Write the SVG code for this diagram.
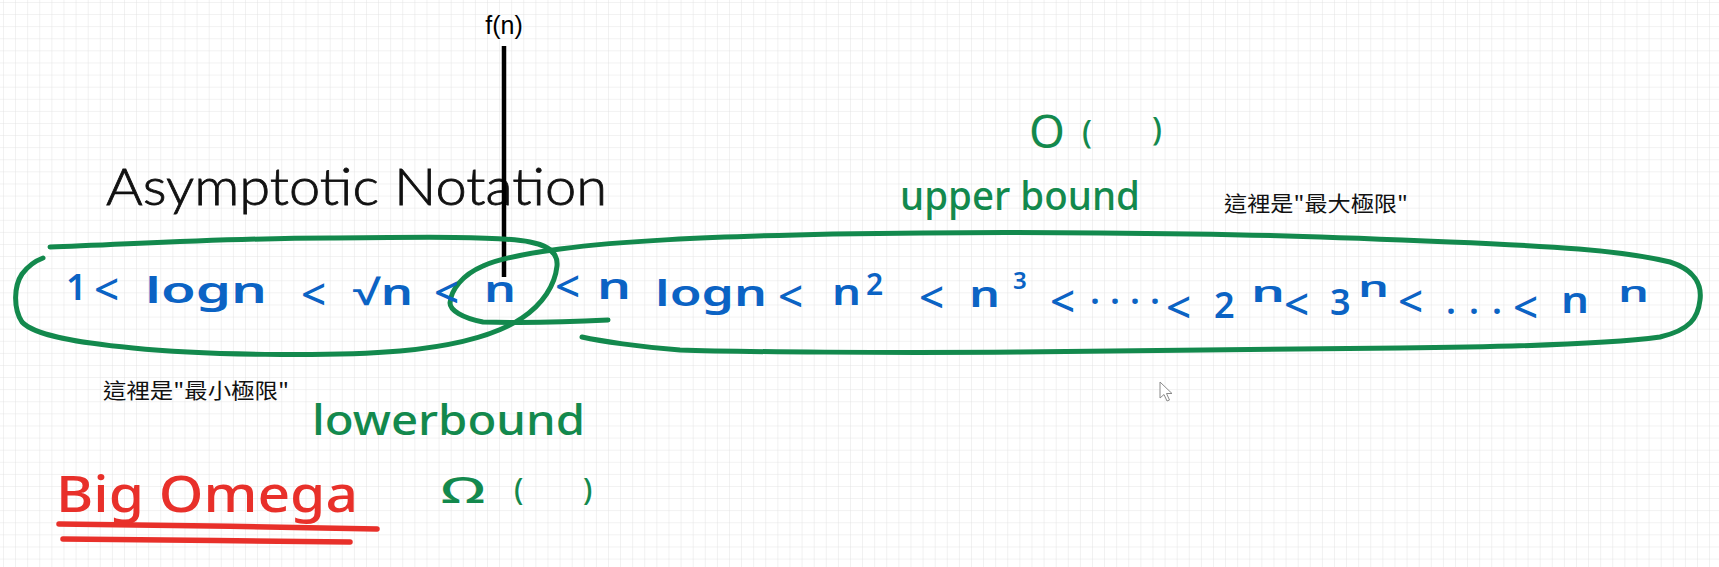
<svg xmlns="http://www.w3.org/2000/svg" width="1719" height="567" viewBox="0 0 1719 567">
<defs>
<pattern id="grid" x="3" y="2" width="12.1" height="12.1" patternUnits="userSpaceOnUse">
<path d="M0,0 H12.1 M0,0 V12.1" fill="none" stroke="#e3e3e3" stroke-width="1"/>
</pattern>
<style>
.ink{fill:none;stroke-linecap:round;stroke-linejoin:round}
.green{stroke:#13894d;stroke-width:5}
.red{stroke:#e8302a;stroke-width:5.5}
.blue{fill:#0b63c4;font-family:"Noto Sans","Liberation Sans",sans-serif;font-weight:600;font-size:36px}
.lt{font-size:44px;font-weight:500}
.gtxt{fill:#13894d;font-family:"Noto Sans","Liberation Sans",sans-serif;font-weight:500}
.cjk{fill:#111;font-family:"Noto Sans CJK TC","Noto Sans CJK SC",sans-serif;font-size:21px}
</style>
</defs>
<rect width="1719" height="567" fill="#ffffff"/>
<rect width="1719" height="567" fill="url(#grid)"/>

<g id="title">
<text x="106" y="205" textLength="501" lengthAdjust="spacingAndGlyphs" font-family="Lato,'Liberation Sans',sans-serif" font-weight="300" font-size="52" fill="#111" stroke="#111" stroke-width="0.8">Asymptotic Notation</text>
</g>

<g id="fn-marker">
<text x="504" y="34" text-anchor="middle" font-family="'Liberation Sans',Arial,sans-serif" font-size="25" fill="#000">f(n)</text>
<line x1="504" y1="46" x2="504" y2="277" stroke="#000" stroke-width="4.5"/>
</g>

<g id="loops">
<path class="ink green" d="M50,247 C120,245 220,238 330,238 C420,237 500,236 530,242 C552,246 558,255 557,266 C555,285 543,304 522,318 C495,336 455,346 400,351 C330,357 200,355 133,348 C80,343 35,336 22,322 C13,308 14,286 22,274 C28,266 35,261 43,258"/>
<path class="ink green" d="M608,320 C570,322 520,323 483,322 C462,318 450,310 450,303 C451,290 462,275 483,266 C500,258 530,253 560,249 C620,241 700,237 833,234 C950,232 1020,232 1100,233 C1250,234 1332,237 1450,242 C1550,246 1620,250 1670,262 C1695,270 1702,285 1700,300 C1698,318 1690,330 1660,337 C1600,345 1500,347 1400,348 C1250,350 1100,352 1020,352 C900,353 733,352 680,350 C640,347 600,341 582,337"/>
</g>

<g id="sequence">
<text class="blue">
<tspan x="66" y="300">1</tspan>
<tspan class="lt" x="94" y="305">&lt;</tspan>
<tspan x="145" y="303" textLength="122" lengthAdjust="spacingAndGlyphs">logn</tspan>
<tspan class="lt" x="301" y="310">&lt;</tspan>
<tspan x="353" y="305" textLength="60" lengthAdjust="spacingAndGlyphs">√n</tspan>
<tspan class="lt" x="434" y="308">&lt;</tspan>
<tspan x="484" y="302" textLength="32" lengthAdjust="spacingAndGlyphs">n</tspan>
<tspan class="lt" x="555" y="302">&lt;</tspan>
<tspan x="597" y="299" textLength="34" lengthAdjust="spacingAndGlyphs">n</tspan>
<tspan x="655" y="306" textLength="112" lengthAdjust="spacingAndGlyphs">logn</tspan>
<tspan class="lt" x="778" y="312">&lt;</tspan>
<tspan x="832" y="305" textLength="29" lengthAdjust="spacingAndGlyphs">n</tspan>
<tspan x="866" y="295" font-size="30">2</tspan>
<tspan class="lt" x="919" y="313">&lt;</tspan>
<tspan x="969" y="307" textLength="31" lengthAdjust="spacingAndGlyphs">n</tspan>
<tspan x="1013" y="289" font-size="24">3</tspan>
<tspan class="lt" x="1050" y="317">&lt;</tspan>
<tspan x="1090" y="304" textLength="70" lengthAdjust="spacing">....</tspan>
<tspan class="lt" x="1166" y="323" font-size="48">&lt;</tspan>
<tspan x="1214" y="318">2</tspan>
<tspan x="1251" y="302" font-size="28" textLength="34" lengthAdjust="spacingAndGlyphs">n</tspan>
<tspan class="lt" x="1284" y="320">&lt;</tspan>
<tspan x="1330" y="315">3</tspan>
<tspan x="1358" y="297" font-size="28" textLength="31" lengthAdjust="spacingAndGlyphs">n</tspan>
<tspan class="lt" x="1398" y="317">&lt;</tspan>
<tspan x="1446" y="314" textLength="56" lengthAdjust="spacing">...</tspan>
<tspan class="lt" x="1513" y="323">&lt;</tspan>
<tspan x="1561" y="313" textLength="28" lengthAdjust="spacingAndGlyphs">n</tspan>
<tspan x="1618" y="302" font-size="28" textLength="31" lengthAdjust="spacingAndGlyphs">n</tspan>
</text>
</g>

<g id="upper">
<text class="gtxt"><tspan x="1029" y="148" font-size="46" font-weight="400">O</tspan><tspan x="1082" y="143" font-size="32">(</tspan><tspan x="1152" y="140" font-size="32">)</tspan></text>
<text class="gtxt" x="900" y="210" font-size="40" textLength="240" lengthAdjust="spacingAndGlyphs">upper bound</text>
<text class="cjk" x="1224" y="211" textLength="184" lengthAdjust="spacingAndGlyphs">這裡是"最大極限"</text>
</g>

<g id="lower">
<text class="cjk" x="103" y="398" textLength="186" lengthAdjust="spacingAndGlyphs">這裡是"最小極限"</text>
<text class="gtxt" x="312" y="435" font-size="42" textLength="273" lengthAdjust="spacingAndGlyphs">lowerbound</text>
<text class="gtxt"><tspan x="441" y="503" font-size="36" textLength="44" lengthAdjust="spacingAndGlyphs">Ω</tspan><tspan x="514" y="500" font-size="30">(</tspan><tspan x="583" y="500" font-size="30">)</tspan></text>
</g>

<g id="big-omega">
<text x="56" y="512" font-family="'Noto Sans','Liberation Sans',sans-serif" font-weight="500" font-size="50" fill="#e8302a" textLength="302" lengthAdjust="spacingAndGlyphs">Big Omega</text>
<path class="ink red" d="M59,524 C150,525 280,527 377,529"/>
<path class="ink red" d="M63,539 C150,540 260,541 350,542"/>
</g>

<g id="cursor">
<path d="M1160,382 L1160,398 L1164,394.5 L1167,401 L1169.5,400 L1166.5,393.5 L1172,393.5 Z" fill="#fff" stroke="#8a8a8a" stroke-width="1"/>
</g>
</svg>
